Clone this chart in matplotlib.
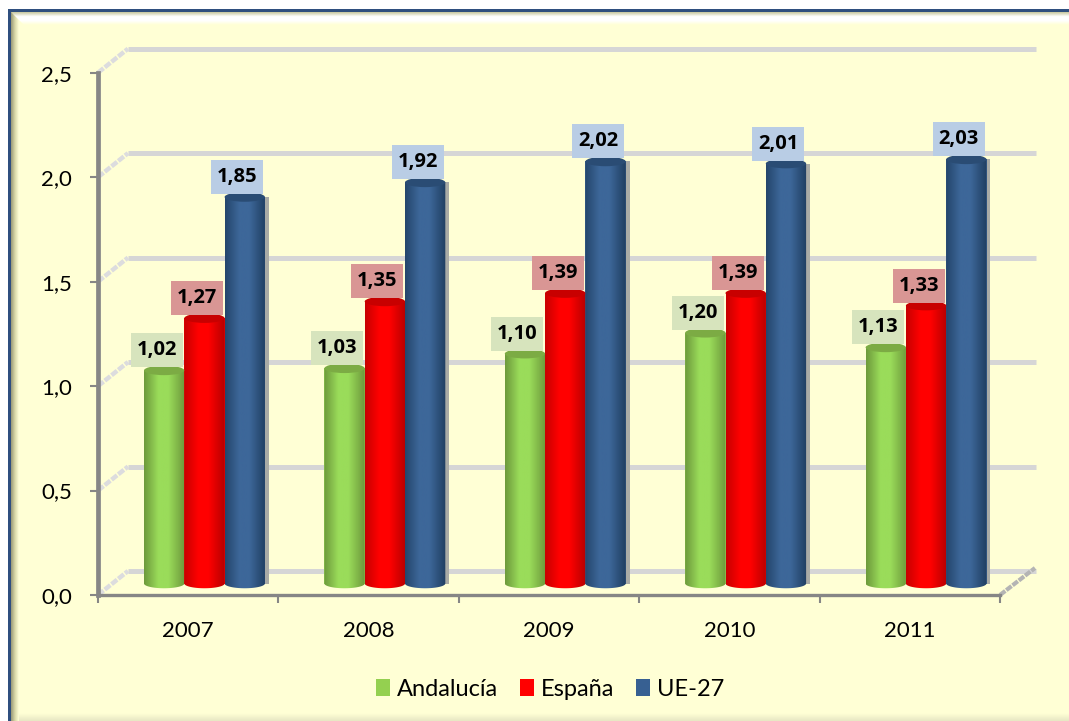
import numpy as np
import matplotlib
matplotlib.use('Agg')
import matplotlib.pyplot as plt
from matplotlib.colors import LinearSegmentedColormap
from matplotlib.patches import Ellipse, Patch, Polygon, Rectangle
from matplotlib.ticker import FuncFormatter

years = ['2007', '2008', '2009', '2010', '2011']
andalucia = [1.02, 1.03, 1.10, 1.20, 1.13]
espana = [1.27, 1.35, 1.39, 1.39, 1.33]
ue27 = [1.85, 1.92, 2.02, 2.01, 2.03]
yticks = [0, 0.5, 1.0, 1.5, 2.0, 2.5]

plt.rcParams['font.family'] = ['Lato', 'DejaVu Sans']

W, H = 1069, 721
fig = plt.figure(figsize=(W / 100, H / 100), dpi=100, facecolor='white')

# background frame, in pixels
bg = fig.add_axes([0, 0, 1, 1])
bg.set_xlim(0, W)
bg.set_ylim(H, 0)
bg.axis('off')
bg.add_patch(Rectangle((8, 9), W, H, fc='#FFFFD5', ec='none'))
bg.add_patch(Rectangle((8, 9), W, 3.5, fc='#2F4F7F', ec='none'))
bg.add_patch(Rectangle((8, 9), 3, H, fc='#2F4F7F', ec='none'))
bevel = LinearSegmentedColormap.from_list('bevel', ['#9A9A78', '#D8D8A8', '#FFFFD5'])
bg.imshow(np.linspace(0, 1, 32)[None, :], extent=(11, 19, H, 12), cmap=bevel, aspect='auto', zorder=2)
top = LinearSegmentedColormap.from_list('top', ['#C8C8A0', '#FFFFFF', '#FFFFFF', '#FFFFD5'])
im = bg.imshow(np.linspace(0, 1, 32)[:, None], extent=(11, W, 25, 12), cmap=top, aspect='auto', zorder=2, origin='upper')
im.set_clip_path(Polygon([(11, 12), (W, 12), (W, 25), (24, 25)], transform=bg.transData))
bot = LinearSegmentedColormap.from_list('bot', ['#FFFFD5', '#E8E8C4'])
bg.imshow(np.linspace(0, 1, 16)[:, None], extent=(19, W, H, 713), cmap=bot, aspect='auto', zorder=2, origin='upper')
bg.set_xlim(0, W)
bg.set_ylim(H, 0)

# plot axes: axis lines of the 3d chart
x0, x1, y0, y1 = 98, 1000, 595, 72.7
ax = fig.add_axes([x0 / W, 1 - y0 / H, (x1 - x0) / W, (y0 - y1) / H])
ax.patch.set_alpha(0)
px = 5 / (x1 - x0)
py = 2.5 / (y0 - y1)
depth_x, depth_y = 30 * px, 24 * py

# back grid and depth lines
for v in yticks:
    ax.plot([depth_x, 5 + 36 * px], [v + depth_y, v + depth_y], color='#D6D6D6', lw=3.6,
            solid_capstyle='butt', zorder=1, clip_on=False)
    ax.plot([0, depth_x], [v, v + depth_y], color='#DCDCDE', lw=3.2, ls=(0, (1.6, 0.35)),
            solid_capstyle='butt', zorder=1, clip_on=False)
ax.plot([5, 5 + 35 * px], [0, depth_y + 3 * py], color='#B4B4B4', lw=3, ls=(0, (1.6, 0.3)),
        zorder=1, clip_on=False)

series = [
    (andalucia, 'Andalucía', ['#6E9A3C', '#9ADC5A', '#9ADC5A', '#6E9A3C'], '#7CAB44', '#D7E4BD', '#94D050'),
    (espana, 'España', ['#C80000', '#FF0000', '#FF0000', '#B80000'], '#C80000', '#D99694', '#FF0000'),
    (ue27, 'UE-27', ['#24466C', '#3D6799', '#3D6799', '#203F62'], '#2A4C74', '#B9CDE5', '#376092'),
]
bar_w = 40.3 * px
first = 46 * px
base = 11.5 * py
ell_h = 9.5 * py
t = np.linspace(0, np.pi, 60)
pos = np.arange(len(years))

# shadow strip next to the blue bars
ax.bar(pos + first + 3 * bar_w - 1 * px, np.array(ue27), 5 * px, bottom=base, align='edge',
       color='#A9ABA6', zorder=2)

for i, (vals, name, stops, top_c, box_c, leg_c) in enumerate(series):
    cm = LinearSegmentedColormap.from_list(name, list(zip([0, 0.35, 0.6, 1], stops)))
    xs = pos + first + i * bar_w
    bars = ax.bar(xs, vals, bar_w, bottom=base, align='edge', color=stops[1], zorder=3)
    for b, h in zip(bars, vals):
        xl, w = b.get_x(), b.get_width()
        cx = xl + w / 2
        # body with rounded foot, shaded left to right
        foot = np.column_stack([cx + w / 2 * np.cos(t), base - ell_h / 2 * np.sin(t)])
        outline = np.vstack([[[xl, base + h], [xl + w, base + h]], foot])
        im = ax.imshow(np.linspace(0, 1, 64)[None, :], extent=(xl, xl + w, base - ell_h, base + h),
                       cmap=cm, aspect='auto', zorder=3.2, origin='lower')
        im.set_clip_path(Polygon(outline, transform=ax.transData))
        ax.add_patch(Ellipse((cx, base + h), w, ell_h, fc=top_c, ec='none', zorder=3.4))
        # value label box
        bx, by = cx - 7.5 * px, base + h + 20 * py
        ax.add_patch(Rectangle((bx - 26 * px, by - 17 * py), 52 * px, 34 * py, fc=box_c, ec='none', zorder=4))
        ax.text(bx, by, f'{h:.2f}'.replace('.', ','), ha='center', va='center', fontsize=14.5,
                family='Open Sans', fontweight='bold', color='black', zorder=5)

ax.set_xlim(0, 5)
ax.set_ylim(0, 2.5)
for s in ['top', 'right']:
    ax.spines[s].set_visible(False)
ax.spines['left'].set_color('#868686')
ax.spines['left'].set_linewidth(3.4)
ax.spines['bottom'].set_color('#868686')
ax.spines['bottom'].set_linewidth(2.4)
ax.set_yticks(yticks)
ax.yaxis.set_major_formatter(FuncFormatter(lambda v, _: f'{v:.1f}'.replace('.', ',')))
ax.tick_params(axis='y', length=5.5, width=1.5, color='#868686', labelsize=16, pad=13)
ax.set_xticks(np.arange(6))
ax.set_xticklabels([])
ax.set_xticks(pos + 0.5, minor=True)
ax.set_xticklabels(years, minor=True)
ax.tick_params(axis='x', which='major', length=6, width=1.5, color='#868686')
ax.tick_params(axis='x', which='minor', length=0, labelsize=16, pad=19)

handles = [Patch(fc=s[5], ec='none', label=s[1]) for s in series]
fig.legend(handles=handles, loc='center', bbox_to_anchor=(550 / W, 1 - 689 / H), ncol=3, frameon=False,
           fontsize=17, handlelength=0.6, handleheight=0.7, handletextpad=0.27, columnspacing=0.95)

fig.savefig('out.png', dpi=100)
